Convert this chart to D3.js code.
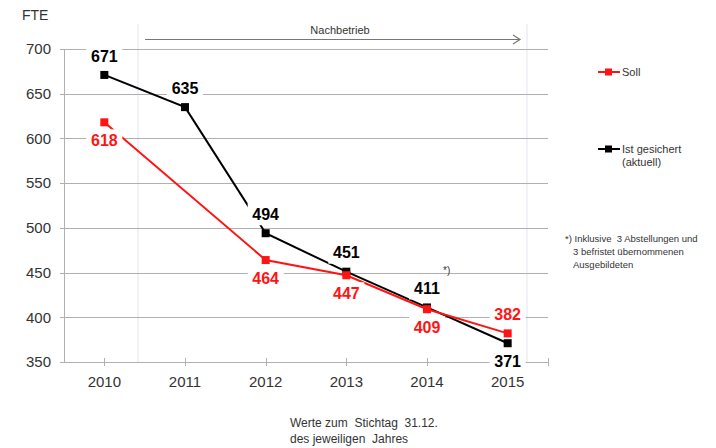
<!DOCTYPE html>
<html>
<head>
<meta charset="utf-8">
<script src="https://cdn.jsdelivr.net/npm/d3@7"></script>
<style>
  body { margin: 0; background: #fff; }
  text { font-family: "Liberation Sans", Arial, sans-serif; white-space: pre; }
</style>
</head>
<body>
<svg id="chart" width="716" height="448"></svg>
<script>
// data
var years = ["2010", "2011", "2012", "2013", "2014", "2015"];
var soll = [618, null, 464, 447, 409, 382];          // red, no value for 2011
var ist = [671, 635, 494, 451, 411, 371];             // black
var yTicks = [350, 400, 450, 500, 550, 600, 650, 700];

var width = 716, height = 448,
    svg = d3.select("#chart");

var x = d3.scaleBand().domain(years).range([64, 548]);
var y = d3.scaleLinear().domain([350, 700]).range([362, 49]);
var cx = function (d) { return x(d) + x.bandwidth() / 2; };

var gridColor = "#b0b0b0", red = "#ff1414";

// light vertical marker lines (start / end of Nachbetrieb)
[138, 527].forEach(function (px) {
  svg.append("line").attr("x1", px).attr("x2", px).attr("y1", 24).attr("y2", 362)
    .attr("stroke", "#dfe7f1").attr("stroke-width", 1);
});

// horizontal gridlines + y labels
svg.append("g").selectAll("line").data(yTicks).enter().append("line")
  .attr("x1", 60).attr("x2", 548)
  .attr("y1", function (d) { return Math.round(y(d)) + 0.5; })
  .attr("y2", function (d) { return Math.round(y(d)) + 0.5; })
  .attr("stroke", gridColor).attr("stroke-width", 1);

svg.append("g").selectAll("text").data(yTicks).enter().append("text")
  .attr("x", 51).attr("y", function (d) { return y(d); })
  .attr("dy", "0.35em").attr("text-anchor", "end")
  .attr("font-size", 15).attr("fill", "#333")
  .text(function (d) { return d; });

// y axis line
svg.append("line").attr("x1", 64.5).attr("x2", 64.5).attr("y1", y(700)).attr("y2", y(350))
  .attr("stroke", gridColor);

// x ticks (category centres + right end)
var xt = years.map(cx).concat([548]);
svg.append("g").selectAll("line").data(xt).enter().append("line")
  .attr("x1", function (d) { return Math.round(d) + 0.5; })
  .attr("x2", function (d) { return Math.round(d) + 0.5; })
  .attr("y1", 358).attr("y2", 366)
  .attr("stroke", gridColor);

svg.append("g").selectAll("text").data(years).enter().append("text")
  .attr("x", cx).attr("y", 382).attr("dy", "0.35em")
  .attr("text-anchor", "middle").attr("font-size", 15).attr("fill", "#333")
  .text(function (d) { return d; });

svg.append("text").attr("x", 22).attr("y", 15).attr("dy", "0.35em")
  .attr("font-size", 14).attr("fill", "#333").text("FTE");

// Nachbetrieb arrow
svg.append("line").attr("x1", 145).attr("x2", 520).attr("y1", 39.5).attr("y2", 39.5)
  .attr("stroke", "#777").attr("stroke-width", 1.2);
svg.append("path").attr("d", "M513,35 L520,39.5 L513,44").attr("fill", "none")
  .attr("stroke", "#777").attr("stroke-width", 1.2);
svg.append("text").attr("x", 340).attr("y", 30).attr("dy", "0.35em")
  .attr("text-anchor", "middle").attr("font-size", 11).attr("fill", "#333")
  .text("Nachbetrieb");

// series
var series = [
  { name: "Ist", values: ist, color: "#000", below: function (i) { return i === ist.length - 1; } },
  { name: "Soll", values: soll, color: red, below: function (i) { return i !== soll.length - 1; } }
];

var line = d3.line()
  .x(function (d) { return cx(d.year); })
  .y(function (d) { return y(d.value); });

series.forEach(function (s) {
  var pts = years.map(function (yr, i) { return { year: yr, value: s.values[i], i: i }; })
    .filter(function (d) { return d.value != null; });
  s.pts = pts;
  svg.append("path").datum(pts).attr("d", line)
    .attr("fill", "none").attr("stroke", s.color).attr("stroke-width", 2);
  svg.append("g").selectAll("rect").data(pts).enter().append("rect")
    .attr("x", function (d) { return cx(d.year) - 4; })
    .attr("y", function (d) { return y(d.value) - 4; })
    .attr("width", 8).attr("height", 8).attr("fill", s.color);
});

// value labels with white boxes that hide the lines behind them
series.forEach(function (s) {
  var g = svg.append("g").selectAll("g").data(s.pts).enter().append("g")
    .attr("transform", function (d) {
      var off = s.below(d.i) ? 18 : -19;
      return "translate(" + cx(d.year) + "," + (y(d.value) + off) + ")";
    });
  g.append("rect").attr("x", -18).attr("y", -11).attr("width", 36).attr("height", 22)
    .attr("fill", "#fff");
  g.append("text").attr("text-anchor", "middle").attr("dy", "0.36em")
    .attr("font-size", 16).attr("font-weight", "bold").attr("fill", s.color)
    .text(function (d) { return d.value; });
});

svg.append("text").attr("x", 443).attr("y", 270).attr("dy", "0.35em")
  .attr("font-size", 10).attr("fill", "#333").text("*)");

// legend
var legend = [
  { label: ["Soll"], color: red, y: 72 },
  { label: ["Ist gesichert", "(aktuell)"], color: "#000", y: 149 }
];
legend.forEach(function (l) {
  svg.append("line").attr("x1", 598).attr("x2", 620).attr("y1", l.y).attr("y2", l.y)
    .attr("stroke", l.color).attr("stroke-width", 2);
  svg.append("rect").attr("x", 605).attr("y", l.y - 3.5).attr("width", 7).attr("height", 7)
    .attr("fill", l.color);
  l.label.forEach(function (t, k) {
    svg.append("text").attr("x", 622).attr("y", l.y + k * 13).attr("dy", "0.35em")
      .attr("font-size", 11).attr("fill", "#333").text(t);
  });
});

// footnote
[["*) Inklusive  3 Abstellungen und", 565, 239],
 ["3 befristet übernommenen", 573, 252],
 ["Ausgebildeten", 573, 265]].forEach(function (f) {
  svg.append("text").attr("x", f[1]).attr("y", f[2]).attr("dy", "0.35em")
    .attr("font-size", 9.5).attr("fill", "#333").text(f[0]);
});

// bottom note
[["Werte zum  Stichtag  31.12.", 423], ["des jeweiligen  Jahres", 439]].forEach(function (b) {
  svg.append("text").attr("x", 290).attr("y", b[1]).attr("dy", "0.35em")
    .attr("font-size", 12).attr("fill", "#333").text(b[0]);
});
</script>
</body>
</html>
